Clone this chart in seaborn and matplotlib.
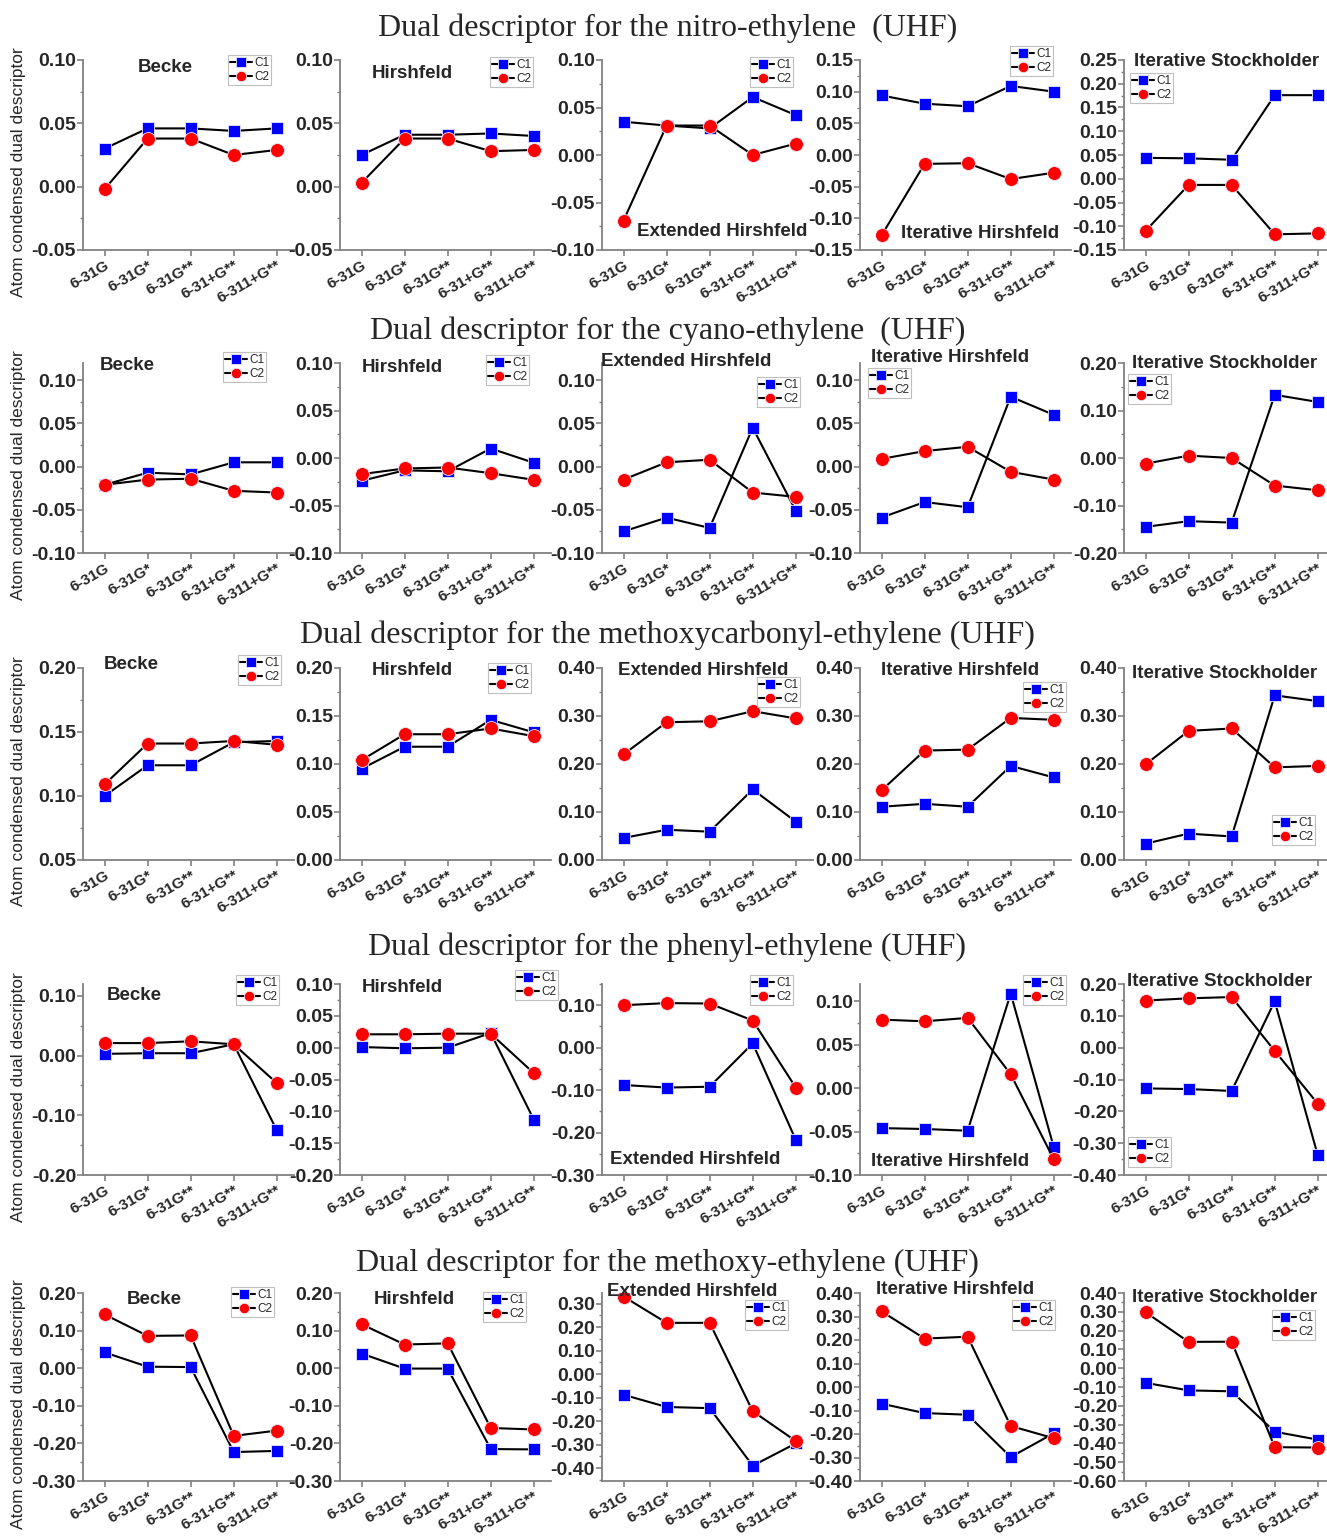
import matplotlib
matplotlib.use("Agg")
import matplotlib.pyplot as plt
from matplotlib.ticker import MultipleLocator, AutoMinorLocator, FuncFormatter
import seaborn as sns
import pandas as pd

# ---- data ----
basis_sets = ["6-31G", "6-31G*", "6-31G**", "6-31+G**", "6-311+G**"]
methods = ["Becke", "Hirshfeld", "Extended Hirshfeld", "Iterative Hirshfeld", "Iterative Stockholder"]
molecules = ["nitro-ethylene  (UHF)", "cyano-ethylene  (UHF)", "methoxycarbonyl-ethylene (UHF)",
             "phenyl-ethylene (UHF)", "methoxy-ethylene (UHF)"]

# one list per method (same order as `methods`), values along basis_sets
nitro_c1 = [[0.030, 0.046, 0.046, 0.044, 0.046],
            [0.025, 0.041, 0.041, 0.042, 0.040],
            [0.035, 0.031, 0.028, 0.061, 0.042],
            [0.094, 0.081, 0.077, 0.109, 0.100],
            [0.044, 0.043, 0.040, 0.176, 0.176]]
nitro_c2 = [[-0.002, 0.038, 0.038, 0.025, 0.029],
            [0.003, 0.038, 0.038, 0.028, 0.029],
            [-0.069, 0.031, 0.031, 0.000, 0.012],
            [-0.127, -0.014, -0.013, -0.038, -0.028],
            [-0.110, -0.013, -0.013, -0.117, -0.115]]

cyano_c1 = [[-0.021, -0.007, -0.009, 0.005, 0.005],
            [-0.024, -0.013, -0.014, 0.010, -0.005],
            [-0.075, -0.059, -0.071, 0.045, -0.051],
            [-0.059, -0.041, -0.047, 0.081, 0.060],
            [-0.145, -0.133, -0.136, 0.133, 0.118]]
cyano_c2 = [[-0.021, -0.015, -0.014, -0.028, -0.030],
            [-0.017, -0.011, -0.010, -0.016, -0.023],
            [-0.015, 0.005, 0.008, -0.030, -0.035],
            [0.009, 0.018, 0.023, -0.006, -0.015],
            [-0.012, 0.005, 0.000, -0.058, -0.068]]

methoxycarbonyl_c1 = [[0.100, 0.124, 0.124, 0.142, 0.143],
                      [0.095, 0.118, 0.118, 0.146, 0.133],
                      [0.046, 0.063, 0.059, 0.147, 0.080],
                      [0.111, 0.117, 0.111, 0.196, 0.172],
                      [0.034, 0.055, 0.049, 0.343, 0.331]]
methoxycarbonyl_c2 = [[0.109, 0.141, 0.141, 0.143, 0.140],
                      [0.104, 0.131, 0.131, 0.137, 0.129],
                      [0.220, 0.287, 0.289, 0.310, 0.295],
                      [0.145, 0.228, 0.230, 0.296, 0.292],
                      [0.199, 0.269, 0.274, 0.193, 0.196]]

phenyl_c1 = [[0.003, 0.004, 0.004, 0.019, -0.125],
             [0.001, -0.001, 0.000, 0.023, -0.113],
             [-0.088, -0.094, -0.092, 0.010, -0.217],
             [-0.046, -0.047, -0.049, 0.109, -0.068],
             [-0.128, -0.130, -0.136, 0.146, -0.338]]
phenyl_c2 = [[0.021, 0.021, 0.024, 0.019, -0.046],
             [0.021, 0.021, 0.022, 0.022, -0.040],
             [0.100, 0.105, 0.104, 0.064, -0.094],
             [0.079, 0.077, 0.081, 0.016, -0.082],
             [0.148, 0.155, 0.159, -0.010, -0.176]]

methoxy_c1 = [[0.042, 0.004, 0.003, -0.223, -0.220],
              [0.039, -0.001, -0.001, -0.215, -0.216],
              [-0.088, -0.140, -0.145, -0.390, -0.295],
              [-0.071, -0.111, -0.118, -0.298, -0.197],
              [-0.078, -0.118, -0.123, -0.338, -0.380]]
methoxy_c2 = [[0.143, 0.086, 0.087, -0.180, -0.166],
              [0.117, 0.063, 0.066, -0.159, -0.163],
              [0.330, 0.218, 0.218, -0.158, -0.285],
              [0.322, 0.206, 0.214, -0.166, -0.218],
              [0.298, 0.140, 0.141, -0.420, -0.422]]

rows = [(molecules[0], nitro_c1, nitro_c2),
        (molecules[1], cyano_c1, cyano_c2),
        (molecules[2], methoxycarbonyl_c1, methoxycarbonyl_c2),
        (molecules[3], phenyl_c1, phenyl_c2),
        (molecules[4], methoxy_c1, methoxy_c2)]

# y range (low, high, major step) per panel
y_ranges = [
    [(-0.05, 0.10, 0.05), (-0.05, 0.10, 0.05), (-0.10, 0.10, 0.05), (-0.15, 0.15, 0.05), (-0.15, 0.25, 0.05)],
    [(-0.10, 0.12, 0.05), (-0.10, 0.10, 0.05), (-0.10, 0.12, 0.05), (-0.10, 0.12, 0.05), (-0.20, 0.20, 0.10)],
    [(0.05, 0.20, 0.05), (0.00, 0.20, 0.05), (0.00, 0.40, 0.10), (0.00, 0.40, 0.10), (0.00, 0.40, 0.10)],
    [(-0.20, 0.12, 0.10), (-0.20, 0.10, 0.05), (-0.30, 0.15, 0.10), (-0.10, 0.12, 0.05), (-0.40, 0.20, 0.10)],
    [(-0.30, 0.20, 0.10), (-0.30, 0.20, 0.10), (-0.455, 0.345, 0.10), (-0.40, 0.40, 0.10), (-0.60, 0.40, 0.10)],
]

# ---- layout (pixels) ----
W, H = 1327, 1536
col_left = [83, 340, 602, 860, 1124]
ax_w = 211
row_px = [(60, 250), (363, 553), (668, 860), (984, 1175), (1293, 1481)]
title_y = [28, 331, 635, 947, 1263]

# method label centres
label_pos = [
    [(165, 68), (412, 74), (722, 231), (980, 234), (1227, 62)],
    [(127, 365), (402, 367), (686, 362), (950, 358), (1225, 364)],
    [(131, 665), (412, 670), (703, 670), (960, 671), (1225, 674)],
    [(134, 996), (402, 987), (695, 1159), (950, 1161), (1220, 981)],
    [(154, 1299), (414, 1300), (692, 1291), (955, 1290), (1225, 1298)],
]
# legend upper-left corners
legend_pos = [
    [(228, 55), (490, 57), (750, 57), (1010, 46), (1130, 73)],
    [(223, 352), (486, 355), (757, 377), (868, 368), (1128, 374)],
    [(238, 655), (488, 663), (757, 677), (1023, 682), (1272, 815)],
    [(236, 975), (515, 970), (750, 975), (1023, 975), (1128, 1137)],
    [(231, 1287), (483, 1292), (745, 1300), (1012, 1300), (1272, 1310)],
]

# ---- style ----
sns.set_style("ticks")
plt.rcParams["font.family"] = ["Liberation Sans", "DejaVu Sans"]
plt.rcParams["axes.unicode_minus"] = False

spine_col = "#808080"
fmt = FuncFormatter(lambda v, p: f"{round(v, 2) + 0:.2f}")

fig = plt.figure(figsize=(W / 100, H / 100), dpi=100)

for r, (mol, c1, c2) in enumerate(rows):
    top, bot = row_px[r]
    fig.text(0.503, 1 - title_y[r] / H, "Dual descriptor for the " + mol,
             family="Liberation Serif", fontsize=23, ha="center", va="center")
    for c, method in enumerate(methods):
        ax = fig.add_axes([col_left[c] / W, 1 - bot / H, ax_w / W, (bot - top) / H])
        df = pd.DataFrame({"basis": basis_sets * 2,
                           "value": c1[c] + c2[c],
                           "atom": ["C1"] * 5 + ["C2"] * 5})
        for atom, mk, colr, ms in [("C1", "s", "#0000ff", 9), ("C2", "o", "#ff0000", 10)]:
            sns.lineplot(data=df[df["atom"] == atom], x="basis", y="value", ax=ax,
                         color="black", lw=1.5, marker=mk, markersize=ms,
                         markerfacecolor=colr, markeredgecolor="#e8e8ff",
                         markeredgewidth=0.6, sort=False, errorbar=None, label=atom)

        lo, hi, step = y_ranges[r][c]
        ax.set_xlim(-0.5, 4.4)
        ax.set_ylim(lo, hi)
        ax.yaxis.set_major_locator(MultipleLocator(step))
        ax.yaxis.set_minor_locator(AutoMinorLocator(2))
        ax.yaxis.set_major_formatter(fmt)
        ax.set_xticks(range(len(basis_sets)))
        ax.set_xticklabels(basis_sets, rotation=30, ha="right", rotation_mode="anchor")
        ax.tick_params(axis="y", labelsize=14, length=4, width=1.2, color=spine_col, pad=1)
        ax.tick_params(axis="y", which="minor", length=2.5, width=1, color=spine_col)
        ax.tick_params(axis="x", labelsize=11, length=4, width=1.2, color=spine_col, pad=2)
        for lab in ax.get_yticklabels() + ax.get_xticklabels():
            lab.set_fontweight("bold")
        sns.despine(ax=ax)
        for sp in ("left", "bottom"):
            ax.spines[sp].set_color(spine_col)
            ax.spines[sp].set_linewidth(1.3)
        ax.set_xlabel("")
        if c == 0:
            ax.set_ylabel("Atom condensed dual descriptor", fontsize=12.5)
            ax.yaxis.set_label_coords(-0.27, 0.41)
        else:
            ax.set_ylabel("")

        lx, ly = label_pos[r][c]
        fig.text(lx / W, 1 - ly / H, method, fontsize=13.5, fontweight="bold",
                 ha="center", va="center")

        gx, gy = legend_pos[r][c]
        leg = ax.legend(loc="upper left", bbox_to_anchor=(gx / W, 1 - gy / H),
                        bbox_transform=fig.transFigure, fontsize=8.5, frameon=True,
                        fancybox=False, edgecolor="#b0b0b0", handlelength=1.8,
                        handletextpad=0.2, borderpad=0.2, labelspacing=0.15,
                        markerscale=0.75, borderaxespad=0)
        leg.get_frame().set_linewidth(0.8)

fig.savefig("out.png", dpi=100)
